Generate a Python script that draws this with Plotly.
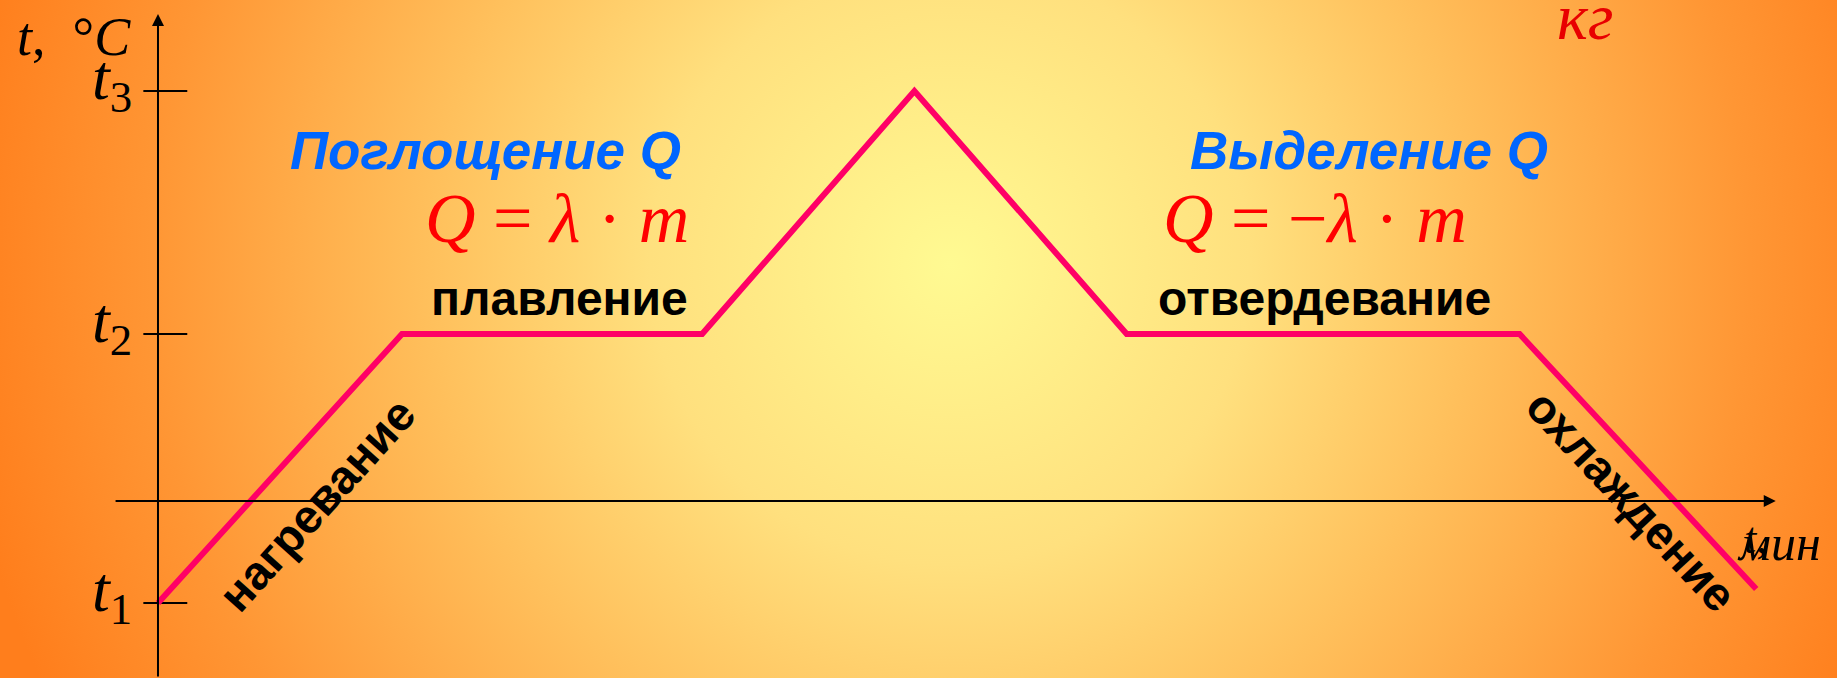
import base64
import plotly.graph_objects as go

# время (мин) и температура в точках излома графика
time_min = [0, 10, 22.3, 31, 39.7, 55.8, 65.5]
temp_c = [-10.2, 16.7, 16.7, 41.0, 16.7, 16.7, -8.8]

# отмеченные температуры на оси t
t_levels = [-10.2, 16.7, 41.0]
t_labels = ["<i>t</i><sub>1</sub>", "<i>t</i><sub>2</sub>", "<i>t</i><sub>3</sub>"]

X_RANGE = [-6.475, 68.81]
Y_RANGE = [-17.7, 50.1]

SERIF = "Liberation Serif, Times New Roman, serif"
SANS = "Liberation Sans, Arial, sans-serif"

# фон: радиальный градиент от светло-жёлтого к оранжевому
svg = (
    "<svg xmlns='http://www.w3.org/2000/svg' width='1837' height='678'>"
    "<defs><radialGradient id='g' gradientUnits='userSpaceOnUse' cx='950' cy='265' r='1000'>"
    "<stop offset='0' stop-color='#FFFA92'/>"
    "<stop offset='0.3' stop-color='#FFE07E'/>"
    "<stop offset='0.52' stop-color='#FFC05C'/>"
    "<stop offset='0.8' stop-color='#FF9634'/>"
    "<stop offset='1' stop-color='#FF7E1C'/>"
    "</radialGradient></defs>"
    "<rect width='1837' height='678' fill='url(#g)'/></svg>"
)
bg_src = "data:image/svg+xml;base64," + base64.b64encode(svg.encode()).decode()

fig = go.Figure()

# засечки на оси температур
tick_x, tick_y = [], []
for lvl in t_levels:
    tick_x += [-0.6, 1.2, None]
    tick_y += [lvl, lvl, None]
fig.add_trace(go.Scatter(x=tick_x, y=tick_y, mode="lines",
                         line=dict(color="black", width=2), hoverinfo="skip"))

# сам график
fig.add_trace(go.Scatter(x=time_min, y=temp_c, mode="lines",
                         line=dict(color="#FF0066", width=6), hoverinfo="skip"))

ann = []
# оси со стрелками
ann.append(dict(x=0, y=48.7, ax=0, ay=Y_RANGE[0], xref="x", yref="y", axref="x", ayref="y",
                text="", showarrow=True, arrowhead=2, arrowsize=1.2, arrowwidth=2, arrowcolor="black"))
ann.append(dict(x=66.3, y=0, ax=-1.8, ay=0, xref="x", yref="y", axref="x", ayref="y",
                text="", showarrow=True, arrowhead=2, arrowsize=1.2, arrowwidth=2, arrowcolor="black"))

for lvl, lab in zip(t_levels, t_labels):
    ann.append(dict(x=-0.98, y=lvl + 0.9, text=lab, xanchor="right", yanchor="middle",
                    font=dict(family=SERIF, size=64, color="black")))

ann.append(dict(x=-3.45, y=46.4, text="<i>t</i>,  °<i>C</i>",
                font=dict(family=SERIF, size=54, color="black")))
ann.append(dict(x=66.45, y=-4.2, text="<i>мин</i>",
                font=dict(family=SERIF, size=50, color="black")))
ann.append(dict(x=65.45, y=-3.7, text="<i>t</i>,",
                font=dict(family=SERIF, size=44, color="black")))
ann.append(dict(x=58.5, y=48.5, text="<i>кг</i>",
                font=dict(family=SERIF, size=66, color="#E80000")))

ann.append(dict(x=13.44, y=35.1, text="<b><i>Поглощение Q</i></b>",
                font=dict(family=SANS, size=53, color="#0066FF")))
ann.append(dict(x=49.65, y=35.1, text="<b><i>Выделение Q</i></b>",
                font=dict(family=SANS, size=53, color="#0066FF")))
ann.append(dict(x=16.35, y=28.3, text="<i>Q</i> = <i>λ</i> · <i>m</i>",
                font=dict(family=SERIF, size=70, color="#FF0000")))
ann.append(dict(x=47.42, y=28.3, text="<i>Q</i> = −<i>λ</i> · <i>m</i>",
                font=dict(family=SERIF, size=70, color="#FF0000")))
ann.append(dict(x=16.45, y=20.3, text="<b>плавление</b>",
                font=dict(family=SANS, size=48, color="black")))
ann.append(dict(x=47.8, y=20.3, text="<b>отвердевание</b>",
                font=dict(family=SANS, size=48, color="black")))
ann.append(dict(x=6.5, y=-0.3, text="<b>нагревание</b>", textangle=-48,
                font=dict(family=SANS, size=47, color="black")))
ann.append(dict(x=60.4, y=0.1, text="<b>охлаждение</b>", textangle=47,
                font=dict(family=SANS, size=47, color="black")))

for a in ann:
    a.setdefault("showarrow", False)
    a.setdefault("xref", "x")
    a.setdefault("yref", "y")

fig.update_layout(
    width=1837, height=678,
    margin=dict(l=0, r=0, t=0, b=0),
    paper_bgcolor="#FF8020",
    plot_bgcolor="rgba(0,0,0,0)",
    showlegend=False,
    annotations=ann,
    images=[dict(source=bg_src, xref="paper", yref="paper", x=0, y=1,
                 sizex=1, sizey=1, sizing="stretch", layer="below")],
)
fig.update_xaxes(range=X_RANGE, visible=False, fixedrange=True)
fig.update_yaxes(range=Y_RANGE, visible=False, fixedrange=True)

# убираем отступ body, чтобы рисунок занял всё окно
fig.write_html("out.html", config={"displayModeBar": False},
               post_script="document.body.style.margin='0';document.body.style.overflow='hidden';")
